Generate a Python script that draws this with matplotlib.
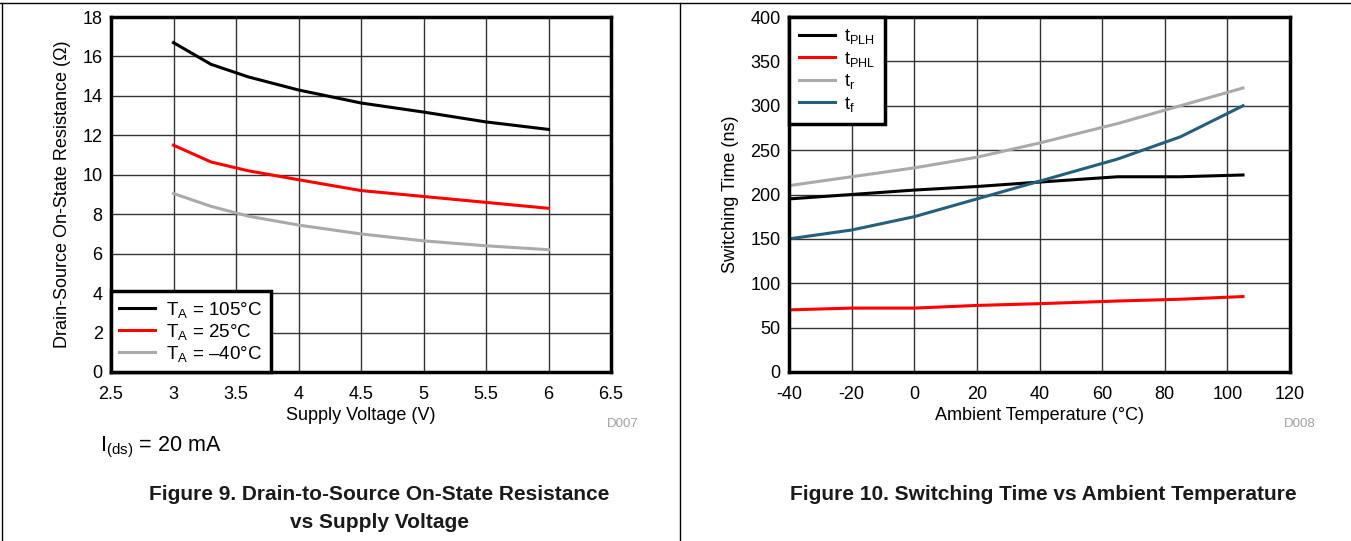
import numpy as np
import matplotlib
matplotlib.use('Agg')
import matplotlib.pyplot as plt
from matplotlib.lines import Line2D

plt.rcParams['font.family'] = ['Liberation Sans', 'DejaVu Sans']
plt.rcParams['mathtext.fontset'] = 'custom'
plt.rcParams['mathtext.rm'] = 'Liberation Sans'
plt.rcParams['mathtext.it'] = 'Liberation Sans'

# Figure 9: on-state resistance vs supply voltage
vcc = [3, 3.3, 3.6, 4, 4.5, 5, 5.5, 6]
r_105 = [16.7, 15.6, 14.96, 14.3, 13.64, 13.18, 12.68, 12.3]
r_25 = [11.5, 10.65, 10.2, 9.75, 9.2, 8.9, 8.6, 8.3]
r_m40 = [9.05, 8.4, 7.9, 7.45, 7.0, 6.65, 6.4, 6.2]
vcc_ticks = ['2.5', '3', '3.5', '4', '4.5', '5', '5.5', '6', '6.5']

# Figure 10: switching time vs ambient temperature
temp = [-40, -20, 0, 20, 40, 65, 85, 105]
t_plh = [195, 200, 205, 209, 214, 220, 220, 222]
t_phl = [70, 72, 72, 75, 77, 80, 82, 85]
t_r = [210, 220, 230, 242, 258, 280, 300, 320]
t_f = [150, 160, 175, 195, 215, 240, 265, 300]
temp_ticks = ['-40', '-20', '0', '20', '40', '60', '80', '100', '120']

W, H = 1351, 541
fig = plt.figure(figsize=(W / 100, H / 100), dpi=100)

ax1 = fig.add_axes([111 / W, 1 - 372 / H, 500 / W, 355 / H])
ax2 = fig.add_axes([789 / W, 1 - 372 / H, 501 / W, 355 / H])

def style(ax):
    ax.grid(True, color='#333333', lw=1)
    ax.set_axisbelow(True)
    for s in ax.spines.values():
        s.set_linewidth(2.5)
        s.set_zorder(5)
    ax.tick_params(length=0, labelsize=13)
    ax.tick_params(axis='x', pad=10)
    ax.tick_params(axis='y', pad=6)

lw = 2.2
ax1.plot(vcc, r_105, color='black', lw=lw, label=r'T$_\mathregular{A}$ = 105°C')
ax1.plot(vcc, r_25, color='#ff0000', lw=lw, label=r'T$_\mathregular{A}$ = 25°C')
ax1.plot(vcc, r_m40, color='#aaaaaa', lw=lw, label=r'T$_\mathregular{A}$ = –40°C')
ax1.set_xlim(2.5, 6.5)
ax1.set_ylim(0, 18)
ax1.set_xticks(np.arange(2.5, 6.51, 0.5))
ax1.set_xticklabels(vcc_ticks)
ax1.set_yticks(np.arange(0, 19, 2))
style(ax1)
ax1.set_xlabel('Supply Voltage (V)', fontsize=13, labelpad=3)
ax1.set_ylabel('Drain-Source On-State Resistance (Ω)', fontsize=13, labelpad=8)
leg1 = ax1.legend(loc='lower left', fontsize=13.5, fancybox=False, framealpha=1,
                  edgecolor='black', borderaxespad=0, handlelength=1.9,
                  labelspacing=0.1, borderpad=0.45, handletextpad=0.6)
leg1.get_frame().set_linewidth(2.5)

ax2.plot(temp, t_plh, color='black', lw=lw, label=r't$_\mathregular{PLH}$')
ax2.plot(temp, t_phl, color='#ff0000', lw=lw, label=r't$_\mathregular{PHL}$')
ax2.plot(temp, t_r, color='#aaaaaa', lw=lw, label=r't$_\mathregular{r}$')
ax2.plot(temp, t_f, color='#245f7c', lw=lw, label=r't$_\mathregular{f}$')
ax2.set_xlim(-40, 120)
ax2.set_ylim(0, 400)
ax2.set_xticks(np.arange(-40, 121, 20))
ax2.set_xticklabels(temp_ticks)
ax2.set_yticks(np.arange(0, 401, 50))
style(ax2)
ax2.set_xlabel('Ambient Temperature (°C)', fontsize=13, labelpad=3)
ax2.set_ylabel('Switching Time (ns)', fontsize=13, labelpad=8)
leg2 = ax2.legend(loc='upper left', fontsize=13, fancybox=False, framealpha=1,
                  edgecolor='black', borderaxespad=0, handlelength=2.0,
                  labelspacing=0.2, borderpad=0.55, handletextpad=0.5)
leg2.get_frame().set_linewidth(2.5)

fig.text(623 / W, 1 - 424 / H, 'D007', color='#a0a0a0', fontsize=9.5, ha='center', va='center')
fig.text(1300 / W, 1 - 424 / H, 'D008', color='#a0a0a0', fontsize=9.5, ha='center', va='center')
fig.text(100 / W, 1 - 447 / H, r'I$_\mathregular{(ds)}$ = 20 mA', fontsize=15.5, ha='left', va='center')

fig.text(379 / W, 1 - 494 / H, 'Figure 9. Drain-to-Source On-State Resistance',
         fontsize=15, weight='bold', ha='center', va='center', color='#1a1a1a')
fig.text(379 / W, 1 - 522 / H, 'vs Supply Voltage',
         fontsize=15, weight='bold', ha='center', va='center', color='#1a1a1a')
fig.text(1043 / W, 1 - 494 / H, 'Figure 10. Switching Time vs Ambient Temperature',
         fontsize=15, weight='bold', ha='center', va='center', color='#1a1a1a')

# page frame lines
fig.add_artist(Line2D([0, 1], [1 - 3 / H, 1 - 3 / H], color='black', lw=1))
fig.add_artist(Line2D([2 / W, 2 / W], [0, 1 - 3 / H], color='black', lw=1))
fig.add_artist(Line2D([680 / W, 680 / W], [0, 1 - 3 / H], color='black', lw=1))

fig.savefig('out.png', dpi=100)
